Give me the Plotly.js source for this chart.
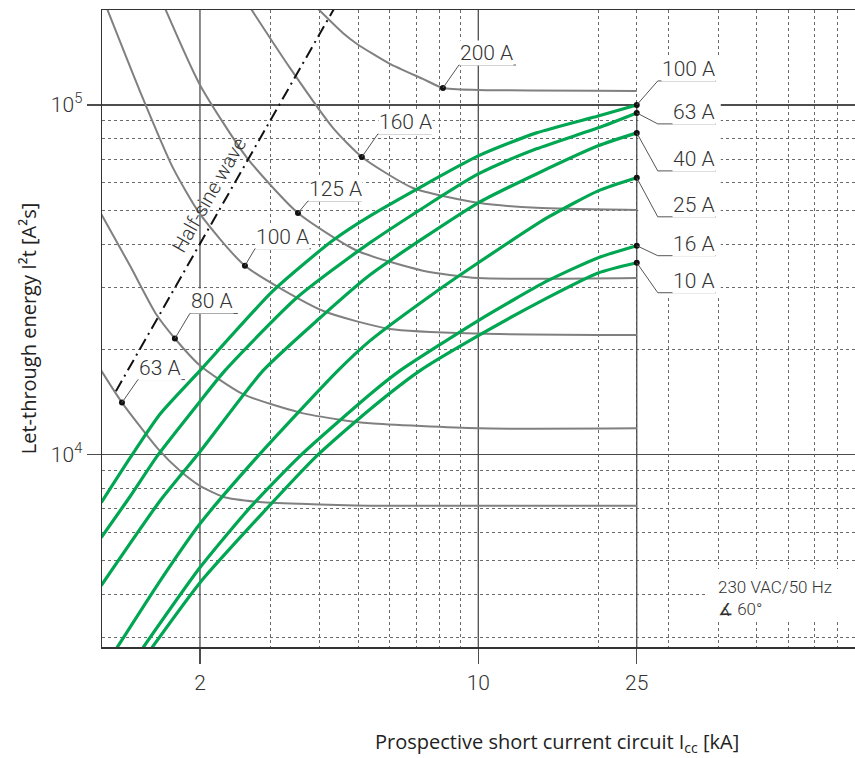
<!DOCTYPE html>
<html>
<head>
<meta charset="utf-8">
<script src="https://cdn.plot.ly/plotly-3.0.1.min.js"></script>
<style>
html,body{margin:0;padding:0;background:#fff;overflow:hidden}
#chart{width:855px;height:758px}
</style>
</head>
<body>
<div id="chart"></div>
<script>
// ---------------- DATA (x: prospective short circuit current in kA, y: I²t in A²s) ----------------
// Green curves: miniature circuit breakers
const mcbLabels = ['100 A', '63 A', '40 A', '25 A', '16 A', '10 A'];
const mcb100X = [1.13, 1.335, 1.59, 2, 3.05, 4.3, 5.35, 10, 14, 20, 25];
const mcb100Y = [7300, 9800, 13100, 17400, 29400, 40900, 48200, 71500, 83200, 93000, 100000];
const mcb63X  = [1.13, 1.335, 1.56, 2, 2.31, 3.5, 5.35, 10, 14, 20, 25];
const mcb63Y  = [5800, 7600, 9900, 14200, 17400, 28100, 40400, 63500, 74900, 86000, 94900];
const mcb40X  = [1.13, 1.59, 2, 2.88, 4.0, 5.35, 10, 14, 20, 25];
const mcb40Y  = [4230, 7400, 10200, 17400, 24600, 32700, 52500, 63500, 76400, 83200];
const mcb25X  = [1.238, 1.59, 2, 2.8, 4.44, 5.35, 7.88, 10, 14.9, 20, 25];
const mcb25Y  = [2810, 4370, 6350, 9930, 17400, 21200, 29400, 35400, 47600, 56800, 61900];
const mcb16X  = [1.439, 2, 2.67, 3.57, 5.35, 6.36, 10, 14.9, 20, 25];
const mcb16Y  = [2810, 4760, 7060, 9930, 14900, 17400, 24200, 31400, 36600, 39600];
const mcb10X  = [1.515, 2, 2.83, 3.93, 5.35, 7.14, 10, 14.9, 20, 25];
const mcb10Y  = [2810, 4310, 6690, 9930, 13500, 17400, 21900, 28100, 33100, 35400];

// Grey curves: back-up fuses
const fuseLabels = ['200 A', '160 A', '125 A', '100 A', '80 A', '63 A'];
const fuse200X = [3.89, 4.57, 4.96, 6.0, 7.26, 8.15, 10, 25];
const fuse200Y = [192000, 160600, 149400, 131000, 118700, 111800, 110400, 109700];
const fuse160X = [2.656, 3.365, 4.315, 5.10, 6.85, 10, 14, 25];
const fuse160Y = [192000, 127600, 86000, 71000, 57900, 52500, 50800, 50100];
const fuse125X = [1.624, 2, 2.625, 3.525, 4.96, 7.26, 10, 25];
const fuse125Y = [192000, 114100, 70600, 49100, 38300, 33600, 32000, 32000];
const fuse100X = [1.161, 1.413, 1.711, 2, 2.594, 4.07, 6.0, 10, 25];
const fuse100Y = [192000, 109600, 66100, 48800, 34700, 25800, 22900, 22200, 22000];
const fuse80X  = [1.13, 1.335, 1.55, 1.73, 2, 2.565, 3.57, 4.49, 5.35, 10, 25];
const fuse80Y  = [48800, 34700, 25300, 21500, 18000, 14900, 13200, 12600, 12300, 11900, 11900];
const fuse63X  = [1.13, 1.274, 1.569, 1.782, 2, 2.285, 2.78, 3.57, 5.35, 25];
const fuse63Y  = [17400, 14100, 10400, 9000, 8150, 7590, 7340, 7240, 7150, 7150];
// index of the labelled (dotted) point on each fuse curve
const fuseLabelIdx = [5, 3, 3, 4, 3, 1];

// Half-sine wave reference line
const halfSineX = [1.23, 4.35];
const halfSineY = [15200, 189000];

// Axis ticks
const xTickVals = [2, 10, 25];
const xTickText = ['2', '10', '25'];
const yTickVals = [1e4, 1e5];
const yTickText = ['10<sup>4</sup>', '10<sup>5</sup>'];
const xMinorVals = [3, 4, 5, 6, 7, 8, 9, 20, 25, 30, 40, 50, 60, 70, 80, 90];
const yMinorVals = [3000, 4000, 5000, 6000, 7000, 8000, 9000, 20000, 30000, 40000, 50000, 60000, 70000, 80000, 90000];

// ---------------- GEOMETRY / STYLE ----------------
const L = 102, T = 10, W = 753, H = 637;
const XR = [0.055, 1.946], YR = [3.4506, 5.2714];
const toPx = x => L + (Math.log10(x) - XR[0]) / (XR[1] - XR[0]) * W;
const toPy = y => T + (YR[1] - Math.log10(y)) / (YR[1] - YR[0]) * H;
const fromPx = p => Math.pow(10, XR[0] + (p - L) / W * (XR[1] - XR[0]));
const fromPy = p => Math.pow(10, YR[1] - (p - T) / H * (YR[1] - YR[0]));
const paperX = p => (p - L) / W;
const paperY = p => (T + H - p) / H;

const FONT = 'Roboto, "Liberation Sans", Arial, sans-serif';
const TFONT = '"Open Sans", "Noto Sans", sans-serif';
const TXT = '#333333';
const GREEN = '#00a651';
const GREY = '#808080';
const MAJOR = '#4d4d4d';

// leader offsets (px): [dx, dy, underline length]
const fuseLeader = [[16, -23, 57], [16, -23, 54], [10, -12, 54], [10, -17, 56], [15, -25, 48], [16, -23, 47]];
const mcbLeader = [[21, -24, 58], [21, 11, 58], [21, 38, 58], [21, 39, 58], [21, 10, 58], [21, 30, 58]];

const mcbSeries = [[mcb100X, mcb100Y], [mcb63X, mcb63Y], [mcb40X, mcb40Y], [mcb25X, mcb25Y], [mcb16X, mcb16Y], [mcb10X, mcb10Y]];
const fuseSeries = [[fuse200X, fuse200Y], [fuse160X, fuse160Y], [fuse125X, fuse125Y], [fuse100X, fuse100Y], [fuse80X, fuse80Y], [fuse63X, fuse63Y]];

const traces = [];
fuseSeries.forEach((s, i) => traces.push({
  x: s[0], y: s[1], type: 'scatter', mode: 'lines', name: 'Fuse ' + fuseLabels[i],
  line: {color: GREY, width: 2, shape: 'spline', smoothing: 0.6}, hoverinfo: 'skip'
}));
traces.push({
  x: halfSineX, y: halfSineY, type: 'scatter', mode: 'lines', name: 'Half-sine wave',
  line: {color: '#111', width: 2, dash: '12px,5px,2px,5px'}, hoverinfo: 'skip'
});
mcbSeries.forEach((s, i) => traces.push({
  x: s[0], y: s[1], type: 'scatter', mode: 'lines', name: 'MCB ' + mcbLabels[i],
  line: {color: GREEN, width: 3.2, shape: 'spline', smoothing: 0.6}, hoverinfo: 'skip'
}));

// dots
const dotX = [], dotY = [];
fuseSeries.forEach((s, i) => { dotX.push(s[0][fuseLabelIdx[i]]); dotY.push(s[1][fuseLabelIdx[i]]); });
mcbSeries.forEach(s => { dotX.push(s[0][s[0].length - 1]); dotY.push(s[1][s[1].length - 1]); });
traces.push({x: dotX, y: dotY, type: 'scatter', mode: 'markers', marker: {color: '#111', size: 6}, hoverinfo: 'skip', name: 'points'});

// ---------------- SHAPES & ANNOTATIONS ----------------
const shapes = [];
const annotations = [];
const yBot = Math.pow(10, YR[0]), yTop = Math.pow(10, YR[1]);
// major vertical grid lines
[2, 10].forEach(v => shapes.push({type: 'line', xref: 'x', yref: 'y', x0: v, x1: v, y0: yBot, y1: yTop, layer: 'between', line: {color: MAJOR, width: 1.3}}));
shapes.push({type: 'line', xref: 'x', yref: 'y', x0: 25, x1: 25, y0: yBot, y1: 1e5, layer: 'between', line: {color: MAJOR, width: 1.3}});
// white masks behind label blocks
const p25 = toPx(25);
shapes.push({type: 'rect', xref: 'x', yref: 'y', x0: fromPx(p25 + 1.5), x1: fromPx(p25 + 84), y0: fromPy(297), y1: fromPy(55), layer: 'between', line: {width: 0}, fillcolor: '#ffffff'});
shapes.push({type: 'rect', xref: 'x', yref: 'y', x0: fromPx(708), x1: Math.pow(10, XR[1]), y0: fromPy(621), y1: fromPy(569), layer: 'between', line: {width: 0}, fillcolor: '#ffffff'});

function addLabel(x, y, text, lead, alignRight) {
  const px = toPx(x), py = toPy(y);
  const cx = px + lead[0], cy = py + lead[1];
  const ex = cx + lead[2];
  shapes.push({type: 'line', xref: 'paper', yref: 'paper', x0: paperX(px), y0: paperY(py), x1: paperX(cx), y1: paperY(cy), layer: 'above', line: {color: '#555', width: 1}});
  shapes.push({type: 'line', xref: 'paper', yref: 'paper', x0: paperX(cx), y0: paperY(cy), x1: paperX(ex), y1: paperY(cy), layer: 'above', line: {color: '#555', width: 1}});
  annotations.push({
    xref: 'paper', yref: 'paper', x: paperX(alignRight ? ex : cx), y: paperY(cy - 12),
    xanchor: alignRight ? 'right' : 'left', yanchor: 'middle', showarrow: false,
    text: text, font: {family: FONT, size: 21, color: TXT, weight: 300},
    bgcolor: '#ffffff', borderpad: 0
  });
}
fuseSeries.forEach((s, i) => addLabel(s[0][fuseLabelIdx[i]], s[1][fuseLabelIdx[i]], fuseLabels[i], fuseLeader[i], false));
mcbSeries.forEach((s, i) => addLabel(s[0][s[0].length - 1], s[1][s[1].length - 1], mcbLabels[i], mcbLeader[i], true));

annotations.push({
  xref: 'paper', yref: 'paper', x: paperX(209), y: paperY(195), xanchor: 'center', yanchor: 'middle',
  text: 'Half-sine wave', textangle: -60.4, showarrow: false,
  font: {family: FONT, size: 20, color: TXT, weight: 300}
});
annotations.push({
  xref: 'paper', yref: 'paper', x: paperX(716), y: paperY(598), xanchor: 'left', yanchor: 'middle', align: 'left',
  text: '230 VAC/50 Hz<br>∡ 60°', showarrow: false,
  font: {family: FONT, size: 17, color: TXT, weight: 300}
});
annotations.push({
  xref: 'paper', yref: 'paper', x: paperX(557), y: paperY(742), xanchor: 'center', yanchor: 'middle',
  text: 'Prospective short current circuit I<sub>cc</sub> [kA]', showarrow: false,
  font: {family: TFONT, size: 20, color: '#222', weight: 400}
});

const layout = {
  width: 855, height: 758,
  margin: {l: L, r: 0, t: T, b: 758 - T - H, pad: 0},
  paper_bgcolor: '#ffffff', plot_bgcolor: '#ffffff',
  showlegend: false,
  font: {family: FONT, size: 21, color: TXT, weight: 300},
  xaxis: {
    type: 'log', range: XR, tickmode: 'array', tickvals: xTickVals, ticktext: xTickText,
    ticks: 'outside', ticklen: 15, tickwidth: 1.3, tickcolor: MAJOR, ticklabelstandoff: 1,
    tickfont: {family: FONT, size: 21, color: TXT, weight: 300},
    showgrid: false, zeroline: false, showline: true, linecolor: '#333', linewidth: 1.5, mirror: true,
    minor: {tickmode: 'array', tickvals: xMinorVals, showgrid: true, gridcolor: '#6a6a6a', griddash: 'dot', gridwidth: 1, ticks: ''},
    fixedrange: true
  },
  yaxis: {
    type: 'log', range: YR, tickmode: 'array', tickvals: yTickVals, ticktext: yTickText,
    ticks: 'outside', ticklen: 14, tickwidth: 1.3, tickcolor: MAJOR,
    tickfont: {family: FONT, size: 21, color: TXT, weight: 300},
    showgrid: true, gridcolor: MAJOR, gridwidth: 1.3, zeroline: false,
    showline: true, linecolor: '#333', linewidth: 1.5, mirror: false,
    minor: {tickmode: 'array', tickvals: yMinorVals, showgrid: true, gridcolor: '#6a6a6a', griddash: 'dot', gridwidth: 1, ticks: ''},
    title: {text: 'Let-through energy I²t [A²s]', font: {family: TFONT, size: 20, color: '#222', weight: 400}, standoff: 9},
    automargin: false, fixedrange: true
  },
  shapes: shapes,
  annotations: annotations
};

Plotly.newPlot('chart', traces, layout, {displayModeBar: false, staticPlot: true});
</script>
</body>
</html>
